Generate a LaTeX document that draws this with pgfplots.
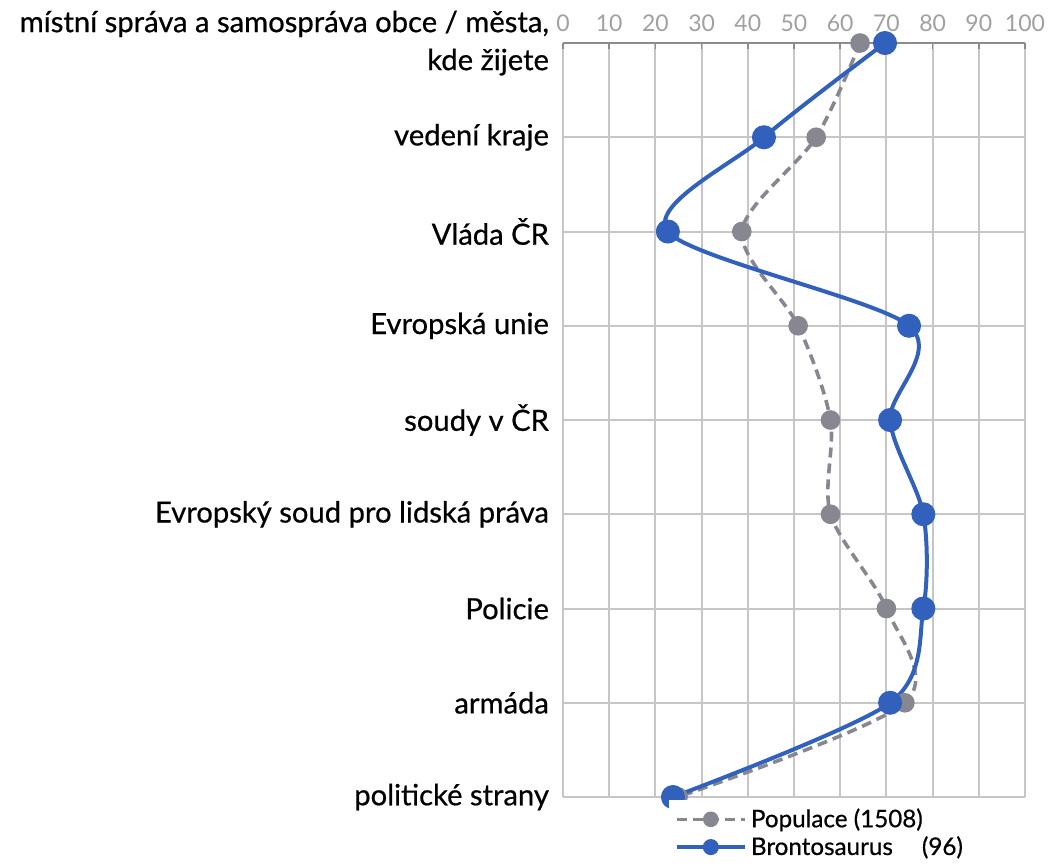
\documentclass[border=0pt]{standalone}
\usepackage{pgfplots}
\pgfplotsset{compat=1.18}
\usepackage{fontspec}
\setmainfont{Lato}
\newfontfamily\labfont{Lato}[FakeBold=0.6]
\definecolor{blueline}{HTML}{3161BC}
\definecolor{greyline}{HTML}{878791}
\definecolor{gridc}{HTML}{C6C6C6}
\definecolor{ticktxt}{HTML}{A0A0A0}
\begin{document}
\begin{tikzpicture}
\useasboundingbox (-281.5pt,-33.5pt) rectangle (242.5pt,398.5pt);
\begin{axis}[
    scale only axis,
    width=231pt, height=377pt,
    at={(0,0)}, anchor=south west,
    xmin=0, xmax=100, ymin=0, ymax=8,
    y dir=reverse,
    axis x line=top,
    axis y line=left,
    x axis line style={-, color=gray!90, line width=1pt},
    y axis line style={draw=none},
    xtick={0,10,...,100},
    ytick={0,...,8},
    yticklabels={{místní správa a samospráva obce / města,\\kde žijete},
        vedení kraje, Vláda ČR, Evropská unie, soudy v ČR,
        Evropský soud pro lidská práva, Policie, armáda, politické strany},
    yticklabel style={align=right, font=\labfont\fontsize{14.6}{19}\selectfont, text=black},
    xticklabel style={font=\fontsize{11.5}{12}\selectfont, text=ticktxt},
    /pgf/number format/assume math mode=true,
    tick align=inside,
    major tick length=3pt,
    xtick style={color=gray!90, line width=0.8pt},
    ytick style={draw=none},
    xmajorgrids, ymajorgrids,
    grid style={gridc, line width=1pt},
    yticklabel shift=3.5pt,
    xticklabel shift=2pt,
    legend style={draw=none, at={(0.558,-0.004)}, anchor=north,
        font=\labfont\fontsize{12.1}{13}\selectfont, row sep=-1pt,
        legend cell align=left},
    legend image code/.code={
        \draw[#1, mark size=3pt] (0cm,0cm) -- (0.6cm,0cm) -- (1.2cm,0cm);
        \draw[#1, solid, mark size=3pt] plot coordinates {(0.6cm,0cm)};
    },
]
\addplot[greyline, line width=1.8pt, dash pattern=on 5pt off 3pt, smooth, tension=0.5,
    mark=*, mark size=4pt, mark options={solid, fill=greyline, draw=greyline}]
    coordinates {
    (64.3,0) (54.8,1) (38.7,2) (50.9,3) (57.9,4) (57.9,5) (70.0,6) (74.0,7) (24.9,8)
    };
\addlegendentry{Populace (1508)}
\addplot[blueline, line width=2pt, smooth, tension=0.5,
    mark=*, mark size=5pt, mark options={solid, fill=blueline, draw=blueline}]
    coordinates {
    (69.7,0) (43.5,1) (22.7,2) (74.9,3) (70.8,4) (78.0,5) (78.0,6) (70.8,7) (23.8,8)
    };
\addlegendentry{Brontosaurus\hspace{1.2em}(96)}
\end{axis}
\end{tikzpicture}
\end{document}
